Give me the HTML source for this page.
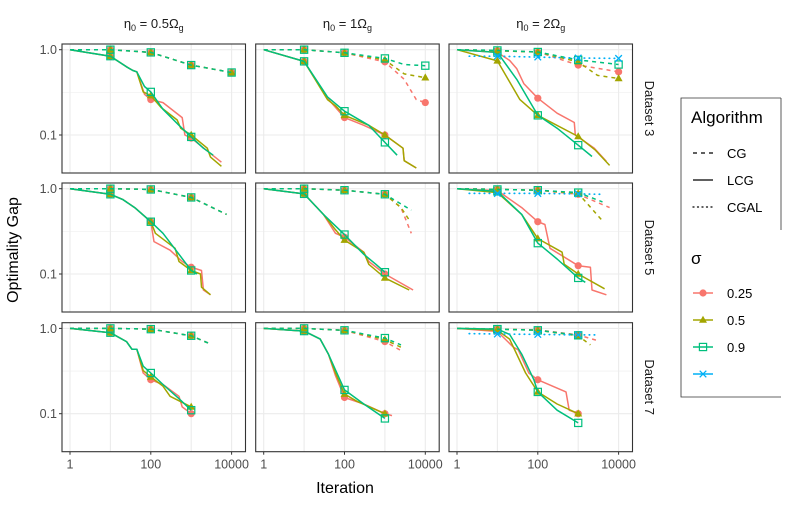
<!DOCTYPE html>
<html><head><meta charset="utf-8"><style>
body{margin:0;background:#fff;}
svg{display:block;font-family:"Liberation Sans",sans-serif;}
</style></head><body>
<svg id="chart" width="789" height="507" viewBox="0 0 789 507">
<g id="panels"></g>
<text x="18" y="250" font-size="16" text-anchor="middle" transform="rotate(-90 18 250)" fill="#000">Optimality Gap</text>
<text x="345" y="493" font-size="16" text-anchor="middle" fill="#000">Iteration</text>
<g>
<path d="M781,98 L681,98 L681,397 L781,397 M781,98 L781,230 M770,397 L781,397" fill="none" stroke="#333" stroke-width="0.8"/>
<text x="691" y="123" font-size="17">Algorithm</text>
<line x1="693" y1="153" x2="713" y2="153" stroke="#000" stroke-width="1.3" stroke-dasharray="4,4"/>
<text x="727" y="158" font-size="13">CG</text>
<line x1="693" y1="180" x2="713" y2="180" stroke="#000" stroke-width="1.3"/>
<text x="727" y="185" font-size="13">LCG</text>
<line x1="693" y1="207" x2="714" y2="207" stroke="#000" stroke-width="1.3" stroke-dasharray="1,3.5" stroke-linecap="round"/>
<text x="727" y="212" font-size="13">CGAL</text>
<text x="691" y="264" font-size="17">σ</text>
<g id="legsig"></g>
</g>
</svg>
<script>
// ---- data: [iteration, gap] per series, per panel (row = dataset, col = eta0) ----
const p11_cg_r=[[1,1],[10,1],[100,0.93],[1000,0.66],[10000,0.54]];
const p11_cg_o=[[1,1],[10,1],[100,0.93],[1000,0.66],[10000,0.54]];
const p11_cg_g=[[1,1],[10,1],[100,0.93],[1000,0.66],[10000,0.54]];
const p11_lcg_r=[[1,1],[10,0.84],[25,0.63],[36,0.57],[45,0.55],[70,0.3],[100,0.26],[200,0.24],[600,0.16],[700,0.1],[1000,0.092],[5600,0.048]];
const p11_lcg_o=[[1,1],[10,0.84],[25,0.63],[36,0.57],[45,0.55],[65,0.32],[100,0.29],[180,0.21],[450,0.15],[550,0.12],[1000,0.1],[2500,0.07],[3000,0.055],[5600,0.043]];
const p11_lcg_g=[[1,1],[10,0.84],[25,0.63],[36,0.57],[45,0.55],[70,0.37],[100,0.32],[200,0.2],[500,0.13],[1000,0.095],[2000,0.07],[3500,0.058]];

const p12_cg_r=[[1,1],[10,1],[100,0.92],[1000,0.72],[3000,0.45],[6000,0.26],[10000,0.24]];
const p12_cg_o=[[1,1],[10,1],[100,0.92],[1000,0.76],[3000,0.52],[10000,0.47]];
const p12_cg_g=[[1,1],[10,1],[100,0.92],[1000,0.79],[3000,0.67],[10000,0.65]];
const p12_lcg_r=[[1,1],[10,0.73],[38,0.27],[100,0.16],[300,0.13],[1000,0.1],[2800,0.07],[3000,0.05],[6000,0.041]];
const p12_lcg_o=[[1,1],[10,0.73],[38,0.26],[60,0.22],[100,0.17],[400,0.13],[1000,0.1],[2800,0.07],[3000,0.05],[6000,0.041]];
const p12_lcg_g=[[1,1],[10,0.73],[38,0.28],[100,0.19],[400,0.13],[1000,0.082],[2000,0.058]];

const p13_cg_r=[[1,1],[10,0.97],[100,0.94],[1000,0.66],[10000,0.55]];
const p13_cg_o=[[1,1],[10,0.97],[100,0.94],[1000,0.72],[3000,0.5],[10000,0.46]];
const p13_cg_g=[[1,1],[10,0.98],[100,0.94],[1000,0.76],[10000,0.67]];
const p13_cgal_b=[[2,0.84],[10,0.84],[100,0.82],[1000,0.8],[10000,0.79]];
const p13_lcg_r=[[1,1],[10,0.93],[20,0.75],[30,0.6],[45,0.4],[100,0.27],[300,0.18],[800,0.14],[850,0.1],[2500,0.07],[5000,0.049]];
const p13_lcg_o=[[1,1],[10,0.74],[36,0.26],[100,0.17],[1000,0.096],[2600,0.067],[6000,0.044]];
const p13_lcg_g=[[1,1],[10,0.93],[30,0.45],[100,0.17],[300,0.12],[1000,0.076],[2200,0.056]];

const p21_cg_r=[[1,1],[10,1],[100,0.98],[1000,0.79],[7500,0.5]];
const p21_cg_o=[[1,1],[10,1],[100,0.98],[1000,0.79],[7500,0.5]];
const p21_cg_g=[[1,1],[10,1],[100,0.98],[1000,0.79],[7500,0.5]];
const p21_lcg_r=[[1,1],[10,0.86],[20,0.75],[40,0.6],[100,0.41],[120,0.24],[300,0.19],[600,0.14],[1000,0.12],[1800,0.11],[2000,0.065],[3000,0.057]];
const p21_lcg_o=[[1,1],[10,0.86],[20,0.75],[40,0.6],[100,0.41],[130,0.3],[400,0.2],[500,0.14],[1000,0.11],[1700,0.1],[1800,0.07],[3000,0.057]];
const p21_lcg_g=[[1,1],[10,0.86],[20,0.75],[40,0.6],[100,0.41],[200,0.3],[500,0.17],[1000,0.11],[1400,0.1]];

const p22_cg_r=[[1,1],[10,1],[100,0.96],[1000,0.86],[2500,0.6],[4500,0.3]];
const p22_cg_o=[[1,1],[10,1],[100,0.96],[1000,0.86],[2500,0.6],[4000,0.43]];
const p22_cg_g=[[1,1],[10,1],[100,0.96],[1000,0.86],[4500,0.56]];
const p22_lcg_r=[[1,1],[10,0.87],[30,0.5],[60,0.3],[100,0.27],[300,0.18],[400,0.14],[1000,0.1],[5000,0.065]];
const p22_lcg_o=[[1,1],[10,0.87],[30,0.5],[60,0.33],[100,0.25],[300,0.18],[400,0.13],[1000,0.09],[4000,0.065]];
const p22_lcg_g=[[1,1],[10,0.87],[30,0.5],[100,0.29],[300,0.17],[600,0.13],[1000,0.105]];

const p23_cg_r=[[1,1],[10,0.98],[100,0.96],[1000,0.86],[6000,0.6]];
const p23_cg_o=[[1,1],[10,0.98],[100,0.96],[1000,0.88],[4000,0.42]];
const p23_cg_g=[[1,1],[10,0.98],[100,0.96],[1000,0.9],[4000,0.7]];
const p23_cgal_b=[[2,0.88],[10,0.88],[100,0.88],[1000,0.87],[4000,0.86]];
const p23_lcg_r=[[1,1],[10,0.95],[40,0.6],[100,0.41],[150,0.38],[200,0.2],[1000,0.125],[2000,0.12],[2200,0.065],[5000,0.057]];
const p23_lcg_o=[[1,1],[10,0.9],[40,0.5],[100,0.26],[400,0.18],[450,0.13],[1000,0.1],[4500,0.067]];
const p23_lcg_g=[[1,1],[10,0.93],[40,0.5],[100,0.23],[300,0.15],[1000,0.09],[1500,0.08]];

const p31_cg_r=[[1,1],[10,1],[100,0.98],[1000,0.82],[2700,0.67]];
const p31_cg_o=[[1,1],[10,1],[100,0.98],[1000,0.82],[2700,0.67]];
const p31_cg_g=[[1,1],[10,1],[100,0.98],[1000,0.82],[2700,0.67]];
const p31_lcg_r=[[1,1],[10,0.89],[25,0.7],[34,0.57],[45,0.57],[65,0.3],[100,0.25],[200,0.22],[500,0.16],[600,0.12],[1000,0.1]];
const p31_lcg_o=[[1,1],[10,0.89],[25,0.7],[34,0.57],[45,0.57],[65,0.32],[100,0.27],[200,0.21],[300,0.16],[1000,0.12]];
const p31_lcg_g=[[1,1],[10,0.89],[25,0.7],[34,0.57],[45,0.57],[65,0.36],[100,0.3],[200,0.22],[500,0.15],[1000,0.11]];

const p32_cg_r=[[1,1],[10,1],[100,0.95],[1000,0.7],[2500,0.55]];
const p32_cg_o=[[1,1],[10,1],[100,0.95],[1000,0.74],[2500,0.6]];
const p32_cg_g=[[1,1],[10,1],[100,0.95],[1000,0.77],[2500,0.64]];
const p32_lcg_r=[[1,1],[10,0.93],[25,0.75],[40,0.5],[60,0.28],[100,0.155],[300,0.13],[1000,0.1],[1500,0.095]];
const p32_lcg_o=[[1,1],[10,0.93],[25,0.75],[40,0.5],[60,0.3],[100,0.17],[200,0.14],[1000,0.1]];
const p32_lcg_g=[[1,1],[10,0.93],[25,0.75],[40,0.5],[65,0.3],[100,0.19],[300,0.13],[1000,0.088]];

const p33_cg_r=[[1,1],[10,0.98],[100,0.96],[1000,0.84],[3000,0.72]];
const p33_cg_o=[[1,1],[10,0.98],[100,0.95],[1000,0.82],[2000,0.64]];
const p33_cg_g=[[1,1],[10,0.98],[100,0.95],[1000,0.83]];
const p33_cgal_b=[[2,0.87],[10,0.86],[100,0.85],[1000,0.84],[3000,0.84]];
const p33_lcg_r=[[1,1],[10,0.92],[25,0.6],[33,0.56],[60,0.3],[100,0.25],[500,0.18],[600,0.11],[1000,0.1]];
const p33_lcg_o=[[1,1],[10,0.95],[20,0.75],[50,0.3],[100,0.18],[300,0.13],[1000,0.1]];
const p33_lcg_g=[[1,1],[10,0.98],[20,0.85],[40,0.5],[80,0.25],[100,0.18],[300,0.11],[1000,0.078]];

const colTitles=["0.5","1","2"];
const rowTitles=["Dataset 3","Dataset 5","Dataset 7"];
const xTicks=[1,100,10000];
const xGrid=[1,10,100,1000,10000];
const yTicks=[1.0,0.1];
const yTickLabels=["1.0","0.1"];

const panelData=[
 [{cg:[p11_cg_r,p11_cg_o,p11_cg_g],lcg:[p11_lcg_r,p11_lcg_o,p11_lcg_g],cgal:null},
  {cg:[p12_cg_r,p12_cg_o,p12_cg_g],lcg:[p12_lcg_r,p12_lcg_o,p12_lcg_g],cgal:null},
  {cg:[p13_cg_r,p13_cg_o,p13_cg_g],lcg:[p13_lcg_r,p13_lcg_o,p13_lcg_g],cgal:p13_cgal_b}],
 [{cg:[p21_cg_r,p21_cg_o,p21_cg_g],lcg:[p21_lcg_r,p21_lcg_o,p21_lcg_g],cgal:null},
  {cg:[p22_cg_r,p22_cg_o,p22_cg_g],lcg:[p22_lcg_r,p22_lcg_o,p22_lcg_g],cgal:null},
  {cg:[p23_cg_r,p23_cg_o,p23_cg_g],lcg:[p23_lcg_r,p23_lcg_o,p23_lcg_g],cgal:p23_cgal_b}],
 [{cg:[p31_cg_r,p31_cg_o,p31_cg_g],lcg:[p31_lcg_r,p31_lcg_o,p31_lcg_g],cgal:null},
  {cg:[p32_cg_r,p32_cg_o,p32_cg_g],lcg:[p32_lcg_r,p32_lcg_o,p32_lcg_g],cgal:null},
  {cg:[p33_cg_r,p33_cg_o,p33_cg_g],lcg:[p33_lcg_r,p33_lcg_o,p33_lcg_g],cgal:p33_cgal_b}]
];

const NS="http://www.w3.org/2000/svg";
const COLS=["#F8766D","#A3A500","#00BF7D"];
const BLUE="#00B0F6";
const colX=[62,255.7,449], rowY=[44,183,322.7], PW=183.5, PH=129;
function mk(tag,attrs,parent){const e=document.createElementNS(NS,tag);for(const k in attrs)e.setAttribute(k,attrs[k]);parent.appendChild(e);return e;}
function xs(x0,v){return x0+8+Math.log10(v)*40.4;}
function ys(y0,v){return y0+5.7-Math.log10(v)*85.3;}
function marker(g,kind,x,y,col){
  let e;
  if(kind===0){e=mk('circle',{cx:x,cy:y,r:3.6,fill:col},g);}
  else if(kind===1){e=mk('path',{d:`M${x},${y-4.3}L${x+4},${y+2.8}L${x-4},${y+2.8}Z`,fill:col},g);}
  else if(kind===2){e=mk('rect',{x:x-3.6,y:y-3.6,width:7.2,height:7.2,fill:'none',stroke:col,'stroke-width':1.2},g);}
  else {e=mk('path',{d:`M${x-3.3},${y-3.3}L${x+3.3},${y+3.3}M${x+3.3},${y-3.3}L${x-3.3},${y+3.3}`,stroke:col,'stroke-width':1.3},g);}
  
  
}
function isDecade(v){const l=Math.log10(v);return Math.abs(l-Math.round(l))<1e-6&&v>=10;}
function series(g,x0,y0,pts,col,dash,kind){
  const d=pts.map((p,i)=>(i?'L':'M')+xs(x0,p[0]).toFixed(1)+','+ys(y0,p[1]).toFixed(1)).join('');
  const a={d:d,fill:'none',stroke:col,'stroke-width':1.5,'stroke-linejoin':'round'};
  if(dash==='cg')a['stroke-dasharray']='4,4';
  if(dash==='cgal'){a['stroke-dasharray']='0.5,4.5';a['stroke-linecap']='round';a['stroke-width']=1.7;}
  const p=mk('path',a,g);
  
  
  pts.forEach(pt=>{if(isDecade(pt[0]))marker(g,kind,xs(x0,pt[0]),ys(y0,pt[1]),col);});
}
const root=document.getElementById('panels');
for(let c=0;c<3;c++){
  const t=mk('text',{x:colX[c]+PW/2,y:28,'font-size':13,'text-anchor':'middle',fill:'#1a1a1a'},root);
  
  
  t.innerHTML=`η<tspan font-size="9" dy="3">0</tspan><tspan dy="-3"> = ${colTitles[c]}Ω</tspan><tspan font-size="9" dy="3">g</tspan>`;
}
for(let r=0;r<3;r++){
  const cx=645, cy=rowY[r]+PH/2;
  const t=mk('text',{x:cx,y:cy,'font-size':13,'text-anchor':'middle',fill:'#1a1a1a',transform:`rotate(90 ${cx} ${cy})`},root);
  
  
  t.textContent=rowTitles[r];
}
for(let r=0;r<3;r++)for(let c=0;c<3;c++){
  const x0=colX[c],y0=rowY[r];
  const g=mk('g',{},root);
  
  
  const cp='cp'+r+c;
  const defs=mk('defs',{},g);const clip=mk('clipPath',{id:cp},defs);mk('rect',{x:x0,y:y0,width:PW,height:PH},clip);
  const grid=mk('g',{'clip-path':`url(#${cp})`},g);
  xGrid.forEach(v=>mk('line',{x1:xs(x0,v),x2:xs(x0,v),y1:y0,y2:y0+PH,stroke:'#ebebeb','stroke-width':1.1},grid));
  [1,0.316,0.1,0.0316].forEach((v,i)=>mk('line',{x1:x0,x2:x0+PW,y1:ys(y0,v),y2:ys(y0,v),stroke:'#ebebeb','stroke-width':i%2?0.6:1.1},grid));
  const d=panelData[r][c];
  const dg=mk('g',{'clip-path':`url(#${cp})`},g);
  for(let s=0;s<3;s++)series(dg,x0,y0,d.lcg[s],COLS[s],'lcg',s);
  for(let s=0;s<3;s++)series(dg,x0,y0,d.cg[s],COLS[s],'cg',s);
  if(d.cgal)series(dg,x0,y0,d.cgal,BLUE,'cgal',3);
  mk('rect',{x:x0,y:y0,width:PW,height:PH,fill:'none',stroke:'#333','stroke-width':1.1},g);
  if(c===0){
    yTicks.forEach((v,i)=>{
      mk('line',{x1:x0-3,x2:x0,y1:ys(y0,v),y2:ys(y0,v),stroke:'#333','stroke-width':1},g);
      const t=mk('text',{x:x0-5,y:ys(y0,v)+4.5,'font-size':12.5,'text-anchor':'end',fill:'#4d4d4d'},g);
      
      
      t.textContent=yTickLabels[i];
    });
  }
  if(r===2){
    xTicks.forEach(v=>{
      mk('line',{x1:xs(x0,v),x2:xs(x0,v),y1:y0+PH,y2:y0+PH+3,stroke:'#333','stroke-width':1},g);
      const t=mk('text',{x:xs(x0,v),y:y0+PH+17,'font-size':12.5,'text-anchor':'middle',fill:'#4d4d4d'},g);
      
      
      t.textContent=String(v);
    });
  }
}
const lg=document.getElementById('legsig');
const sigLabels=["0.25","0.5","0.9",""];
[COLS[0],COLS[1],COLS[2],BLUE].forEach((col,i)=>{
  const y=293+i*27;
  mk('line',{x1:693,x2:713,y1:y,y2:y,stroke:col,'stroke-width':1.5},lg);
  marker(lg,i,703,y,col);
  const t=mk('text',{x:727,y:y+5,'font-size':13},lg);
  
  
  t.textContent=sigLabels[i];
});
</script>
</body></html>
